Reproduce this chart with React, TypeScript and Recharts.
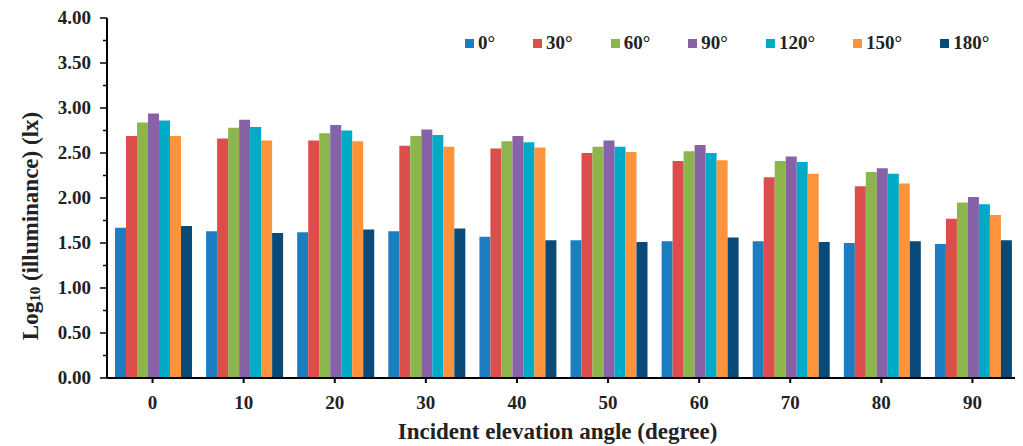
import { BarChart, Bar, XAxis, YAxis, Label } from 'recharts';

const angles = [0, 10, 20, 30, 40, 50, 60, 70, 80, 90];
const s0 = [1.67, 1.63, 1.62, 1.63, 1.57, 1.53, 1.52, 1.52, 1.50, 1.49];
const s30 = [2.69, 2.66, 2.64, 2.58, 2.55, 2.50, 2.41, 2.23, 2.13, 1.77];
const s60 = [2.84, 2.78, 2.72, 2.69, 2.63, 2.57, 2.52, 2.41, 2.29, 1.95];
const s90 = [2.94, 2.87, 2.81, 2.76, 2.69, 2.64, 2.59, 2.46, 2.33, 2.01];
const s120 = [2.86, 2.79, 2.75, 2.70, 2.62, 2.57, 2.50, 2.40, 2.27, 1.93];
const s150 = [2.69, 2.64, 2.63, 2.57, 2.56, 2.51, 2.42, 2.27, 2.16, 1.81];
const s180 = [1.69, 1.61, 1.65, 1.66, 1.53, 1.51, 1.56, 1.51, 1.52, 1.53];
const yTicks = [0, 0.25, 0.5, 0.75, 1, 1.25, 1.5, 1.75, 2, 2.25, 2.5, 2.75, 3, 3.25, 3.5, 3.75, 4];

const series = [
  { key: 'a0', name: '0°', values: s0, color: '#1c7dc1' },
  { key: 'a30', name: '30°', values: s30, color: '#db4e4b' },
  { key: 'a60', name: '60°', values: s60, color: '#8cb64c' },
  { key: 'a90', name: '90°', values: s90, color: '#8762a7' },
  { key: 'a120', name: '120°', values: s120, color: '#00abc7' },
  { key: 'a150', name: '150°', values: s150, color: '#fd943b' },
  { key: 'a180', name: '180°', values: s180, color: '#0a4a79' },
];

const data = angles.map((a, i) => {
  const row: Record<string, number> = { angle: a };
  series.forEach(s => { row[s.key] = s.values[i]; });
  return row;
});

const FONT = '"Liberation Serif", "Times New Roman", serif';

function YTick({ x, y, payload }: any) {
  const major = Math.round(payload.value * 100) % 50 === 0;
  return (
    <g>
      <line x1={x - (major ? 7 : 4)} x2={x} y1={y} y2={y} stroke="#000" strokeWidth={1.5} />
      {major && (
        <text x={x - 16} y={y + 6} textAnchor="end" fontFamily={FONT} fontWeight="bold" fontSize={19} fill="#222">
          {payload.value.toFixed(2)}
        </text>
      )}
    </g>
  );
}

function XTick({ x, y, payload }: any) {
  return (
    <g>
      <line x1={x} x2={x} y1={y} y2={y + 5} stroke="#000" strokeWidth={2} />
      <text x={x} y={y + 31} textAnchor="middle" fontFamily={FONT} fontWeight="bold" fontSize={19} fill="#222">
        {payload.value}
      </text>
    </g>
  );
}

export default function App() {
  return (
    <div style={{ position: 'relative', width: 1015, height: 438 }}>
      <BarChart width={1015} height={438} data={data} margin={{ top: 10, right: 5, bottom: 8, left: 0 }}
        barCategoryGap="8.8%" barGap={0}>
        <XAxis dataKey="angle" height={60} tickSize={0} tickMargin={0} tick={<XTick />}
          axisLine={{ stroke: '#000', strokeWidth: 2 }} tickLine={false} interval={0}>
          <Label content={({ viewBox }: any) => (
            <text x={viewBox.x + viewBox.width / 2 - 5} y={viewBox.y + 61} textAnchor="middle"
              fontFamily={FONT} fontWeight="bold" fontSize={23} fill="#222">
              Incident elevation angle (degree)
            </text>
          )} />
        </XAxis>
        <XAxis xAxisId="top" orientation="top" dataKey="angle" height={0} tick={false} tickLine={false}
          axisLine={{ stroke: '#000', strokeWidth: 1.5 }} />
        <YAxis width={99} domain={[0, 4]} ticks={yTicks} interval={0} tickSize={0} tickMargin={0}
          tick={<YTick />} tickLine={false} axisLine={{ stroke: '#000', strokeWidth: 2 }}>
          <Label content={({ viewBox }: any) => {
            const cx = 22;
            const cy = viewBox.y + viewBox.height / 2 + 28;
            return (
              <text x={cx} y={cy} transform={`rotate(-90 ${cx} ${cy})`} textAnchor="middle"
                dominantBaseline="central" fontFamily={FONT} fontWeight="bold" fontSize={23} fill="#222">
                Log<tspan fontSize={15} dy={5}>10</tspan><tspan dy={-5}> (illuminance) (lx)</tspan>
              </text>
            );
          }} />
        </YAxis>
        <YAxis yAxisId="right" orientation="right" width={0} domain={[0, 4]} tick={false} tickLine={false}
          axisLine={{ stroke: '#000', strokeWidth: 1.5 }} />
        {series.map(s => (
          <Bar key={s.key} dataKey={s.key} name={s.name} fill={s.color} isAnimationActive={false} />
        ))}
      </BarChart>
      <div style={{ position: 'absolute', top: 24, left: 457, display: 'flex', alignItems: 'center',
        fontFamily: FONT, fontWeight: 'bold', fontSize: 19, color: '#222' }}>
        {series.map(s => (
          <div key={s.key} style={{ display: 'flex', alignItems: 'center', marginRight: 38 }}>
            <span style={{ width: 9, height: 9, background: s.color, display: 'inline-block', marginRight: 4 }} />
            <span>{s.name}</span>
          </div>
        ))}
      </div>
    </div>
  );
}
